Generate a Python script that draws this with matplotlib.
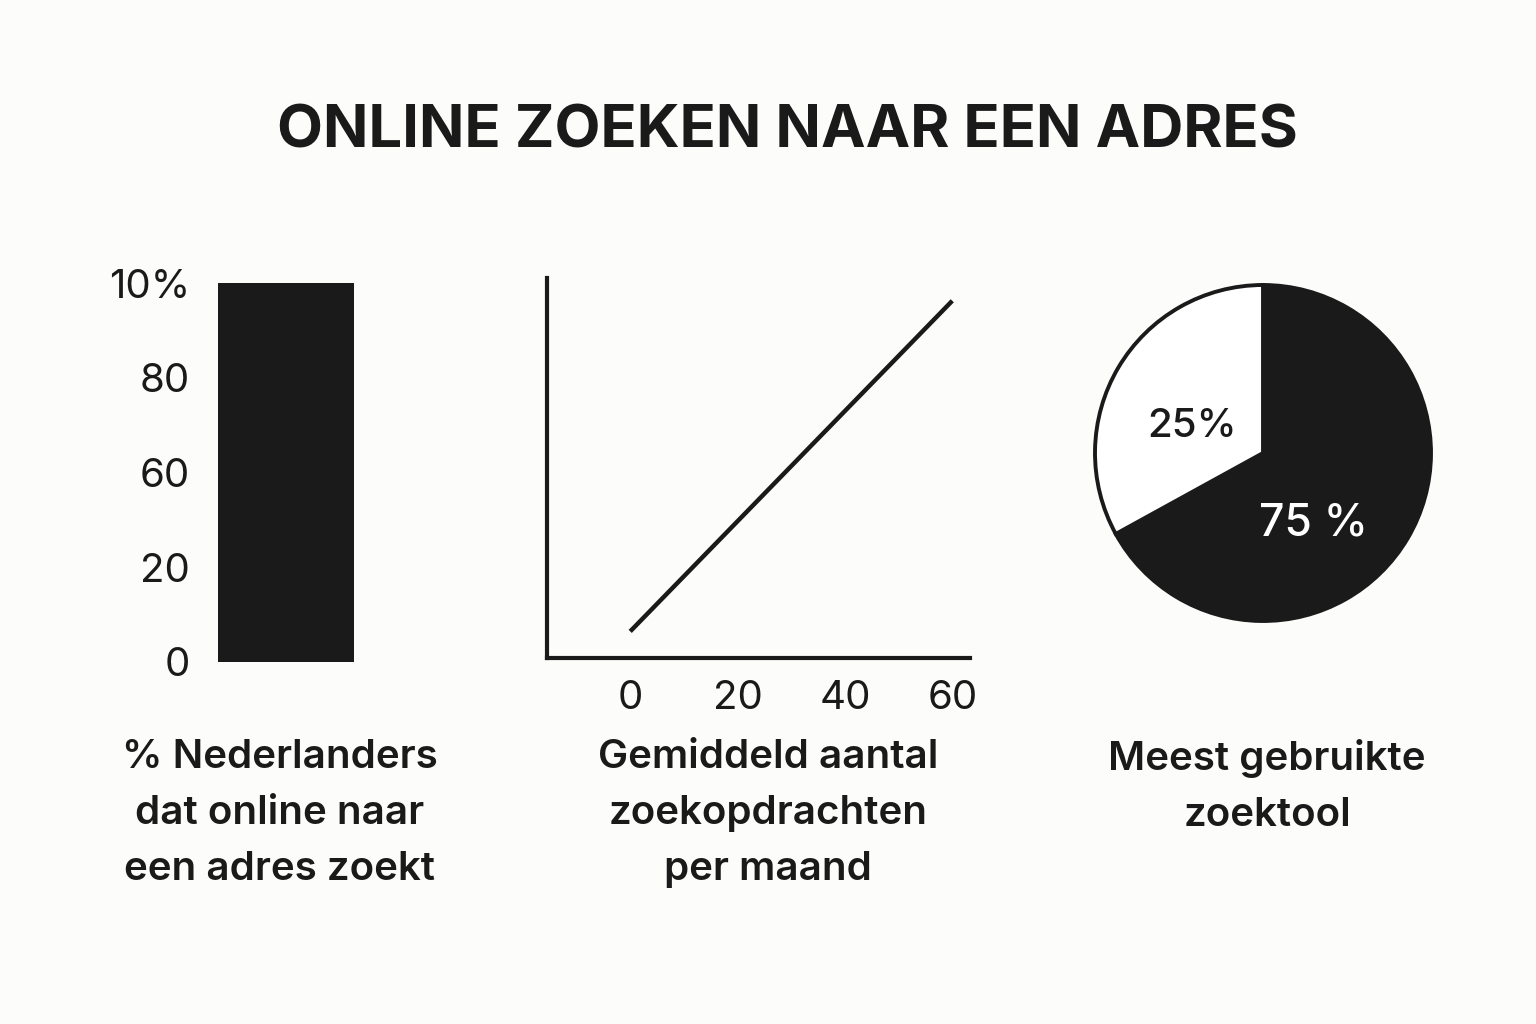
import matplotlib
matplotlib.use('Agg')
import matplotlib.pyplot as plt

# data
bar_values = [100]
bar_ticks = [0, 25, 50, 75, 100]
bar_ticklabels = ['0', '20', '60', '80', '10%']

line_x = [0, 60]
line_y = [7, 94]
line_ticks = [0, 20, 40, 60]

pie_shares = [67, 33]
pie_labels = ['75 %', '25%']
pie_colors = ['#1a1a1a', '#ffffff']

title = 'ONLINE ZOEKEN NAAR EEN ADRES'
captions = ['% Nederlanders\ndat online naar\neen adres zoekt',
            'Gemiddeld aantal\nzoekopdrachten\nper maand',
            'Meest gebruikte\nzoektool']

W, H = 1536, 1024
BG = '#fcfcfa'
INK = '#1a1a1a'

plt.rcParams['font.family'] = ['Inter', 'DejaVu Sans']


def px(x0, y0, x1, y1):
    return [x0 / W, 1 - y1 / H, (x1 - x0) / W, (y1 - y0) / H]


fig = plt.figure(figsize=(W / 100, H / 100), dpi=100, facecolor=BG)

fig.text(787 / W, 1 - 132 / H, title, ha='center', va='center',
         fontsize=43, fontweight='bold', color=INK)

# bar panel
ax1 = fig.add_axes(px(218, 283, 354, 662))
ax1.set_facecolor('none')
ax1.bar([0], bar_values, width=1.0, color=INK)
ax1.set_xlim(-0.5, 0.5)
ax1.set_ylim(0, 100)
ax1.set_yticks(bar_ticks)
ax1.set_yticklabels(bar_ticklabels, fontsize=29, color=INK)
ax1.tick_params(axis='y', length=0, pad=20)
ax1.set_xticks([])
for s in ax1.spines.values():
    s.set_visible(False)

# line panel
ax2 = fig.add_axes(px(547, 278, 970, 658))
ax2.set_facecolor('none')
ax2.plot(line_x, line_y, color=INK, lw=3.2, solid_capstyle='butt')
ax2.set_xlim(-15.5, 63.3)
ax2.set_ylim(0, 100)
ax2.set_xticks(line_ticks)
ax2.set_xticklabels([str(t) for t in line_ticks], fontsize=29, color=INK)
ax2.tick_params(axis='x', length=0, pad=16)
ax2.set_yticks([])
for side in ['top', 'right']:
    ax2.spines[side].set_visible(False)
for side in ['left', 'bottom']:
    ax2.spines[side].set_linewidth(3)
    ax2.spines[side].set_color(INK)

# pie panel
r = 168 * 1.02
ax3 = fig.add_axes(px(1263 - r, 453 - r, 1263 + r, 453 + r))
ax3.pie(pie_shares, colors=pie_colors, startangle=90, counterclock=False,
        wedgeprops=dict(edgecolor=INK, linewidth=2.8))
ax3.set_xlim(-1.02, 1.02)
ax3.set_ylim(-1.02, 1.02)
ax3.set_aspect('equal')
ax3.text(0.30, -0.42, pie_labels[0], ha='center', va='center',
         fontsize=32, color='white', fontweight='medium')
ax3.text(-0.42, 0.16, pie_labels[1], ha='center', va='center',
         fontsize=29, color=INK, fontweight='medium')

# captions
for cx, txt in zip([280, 768, 1267], captions):
    fig.text(cx / W, 1 - 739 / H, txt, ha='center', va='top', fontsize=29,
             fontweight='semibold', color=INK, linespacing=1.66)

fig.savefig('out.png', dpi=100, facecolor=BG)
